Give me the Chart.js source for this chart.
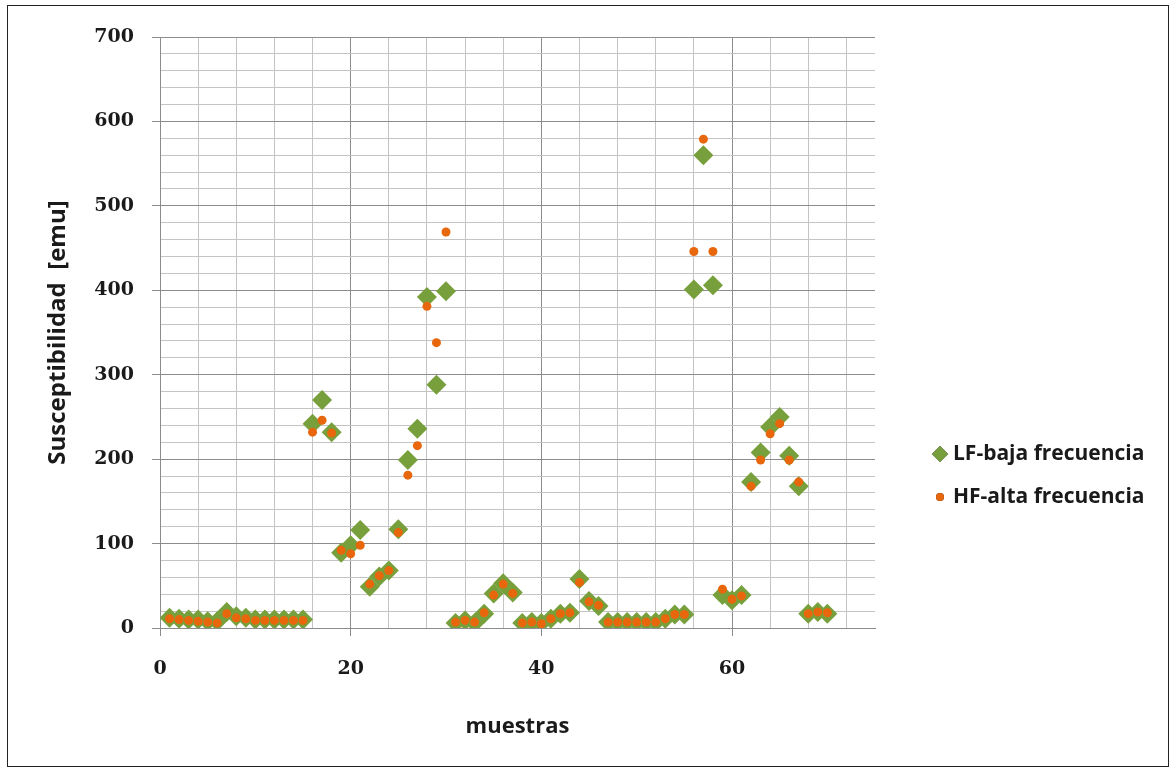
<!DOCTYPE html>
<html>
<head>
<meta charset="utf-8">
<script src="https://cdn.jsdelivr.net/npm/chart.js@4.4.1/dist/chart.umd.min.js"></script>
<style>
  html, body { margin: 0; padding: 0; background: #fff; }
  #wrap { position: relative; width: 1175px; height: 769px; }
  #frame { position: absolute; left: 7px; top: 5px; width: 1162px; height: 762px; border: 1px solid #222; box-sizing: border-box; pointer-events: none; }
</style>
</head>
<body>
<div id="wrap">
  <canvas id="grafico"></canvas>
  <div id="frame"></div>
</div>
<script>
// --- datos ---
const muestras = [1, 2, 3, 4, 5, 6, 7, 8, 9, 10, 11, 12, 13, 14, 15, 16, 17, 18, 19, 20,
  21, 22, 23, 24, 25, 26, 27, 28, 29, 30, 31, 32, 33, 34, 35, 36, 37, 38, 39, 40,
  41, 42, 43, 44, 45, 46, 47, 48, 49, 50, 51, 52, 53, 54, 55, 56, 57, 58, 59, 60,
  61, 62, 63, 64, 65, 66, 67, 68, 69, 70];

// LF - baja frecuencia
const lf = [12, 11, 10, 10, 8, 8, 19, 14, 12, 10, 10, 10, 10, 10, 10, 242, 270, 232, 89, 98,
  116, 49, 61, 68, 117, 199, 236, 392, 288, 399, 6, 9, 6, 17, 41, 53, 42, 6, 7, 6,
  11, 17, 18, 58, 32, 26, 7, 7, 7, 7, 7, 7, 11, 16, 16, 401, 560, 406, 39, 33,
  39, 173, 208, 238, 250, 204, 168, 17, 19, 17];

// HF - alta frecuencia
const hf = [11, 10, 9, 8, 7, 6, 17, 12, 11, 9, 9, 9, 9, 9, 9, 232, 246, 231, 92, 88,
  98, 52, 62, 68, 113, 181, 216, 381, 338, 469, 7, 9, 7, 18, 39, 52, 41, 6, 7, 5,
  11, 17, 18, 54, 31, 27, 7, 7, 7, 7, 7, 7, 11, 16, 16, 446, 579, 446, 46, 34,
  38, 168, 199, 230, 242, 199, 173, 17, 19, 18];

const etiquetaLF = 'LF-baja frecuencia';
const etiquetaHF = 'HF-alta frecuencia';
const tituloX = 'muestras';
const tituloY = 'Susceptibilidad  [emu]';

const verde = '#77a03c';
const naranja = '#e8670c';

function puntos(serie) {
  return muestras.map((m, i) => ({ x: m, y: serie[i] }));
}

// leyenda dibujada a mano a la derecha (como en Excel)
const leyendaPlugin = {
  id: 'leyenda',
  afterDraw(chart) {
    const c = chart.ctx;
    const items = [
      { texto: etiquetaLF, estilo: 'rectRot', color: verde, r: 8, y: 454 },
      { texto: etiquetaHF, estilo: 'circle', color: naranja, r: 4, y: 497 }
    ];
    c.save();
    c.font = 'bold 21px "Open Sans"';
    c.textBaseline = 'middle';
    items.forEach(it => {
      Chart.helpers.drawPoint(c, { pointStyle: it.estilo, radius: it.r, borderWidth: 0 }, 940, it.y);
      c.fillStyle = it.color;
      c.fill();
      c.fillStyle = '#1a1a1a';
      c.fillText(it.texto, 953, it.y);
    });
    c.restore();
  }
};

const ctx = document.getElementById('grafico').getContext('2d');
const grafico = new Chart(ctx, {
  type: 'scatter',
  data: {
    datasets: [
      {
        label: etiquetaLF,
        data: puntos(lf),
        order: 1, // debajo de los puntos naranjas
        pointStyle: 'rectRot',
        pointRadius: 10,
        pointBackgroundColor: verde,
        pointBorderColor: verde,
        pointBorderWidth: 0
      },
      {
        label: etiquetaHF,
        data: puntos(hf),
        order: 0,
        pointStyle: 'circle',
        pointRadius: 4.5,
        pointBackgroundColor: naranja,
        pointBorderColor: naranja,
        pointBorderWidth: 0
      }
    ]
  },
  options: {
    responsive: true,
    maintainAspectRatio: false,
    animation: false,
    layout: { padding: { left: 0, top: 37, right: 300, bottom: 0 } },
    plugins: {
      legend: { display: false },
      tooltip: { enabled: false }
    },
    scales: {
      x: {
        type: 'linear',
        min: 0,
        max: 75,
        afterFit: s => { s.height = 141; },
        ticks: {
          stepSize: 4,
          includeBounds: false,
          autoSkip: false,
          maxRotation: 0,
          padding: 22,
          color: '#1a1a1a',
          font: { family: '"DejaVu Serif"', weight: 'bold', size: 19 },
          callback: v => (v % 20 === 0 ? String(v) : '')
        },
        grid: {
          color: c => (c.tick && c.tick.value % 20 === 0 ? '#8c8c8c' : '#c4c4c4'),
          tickColor: c => (c.tick && c.tick.value % 20 === 0 ? '#8c8c8c' : 'rgba(0,0,0,0)'),
          tickLength: 8,
          lineWidth: 1
        },
        border: { color: '#8c8c8c', width: 1 },
        title: {
          display: true,
          text: tituloX,
          color: '#1a1a1a',
          font: { family: '"Open Sans"', weight: 'bold', size: 22 },
          padding: { top: 0, bottom: 29 }
        }
      },
      y: {
        min: 0,
        max: 700,
        afterFit: s => { s.width = 160; },
        ticks: {
          stepSize: 20,
          autoSkip: false,
          padding: 18,
          color: '#1a1a1a',
          font: { family: '"DejaVu Serif"', weight: 'bold', size: 19 },
          callback: v => (v % 100 === 0 ? String(v) : '')
        },
        grid: {
          color: c => (c.tick && c.tick.value % 100 === 0 ? '#8c8c8c' : '#c4c4c4'),
          tickColor: c => (c.tick && c.tick.value % 100 === 0 ? '#8c8c8c' : 'rgba(0,0,0,0)'),
          tickLength: 8,
          lineWidth: 1
        },
        border: { color: '#8c8c8c', width: 1 },
        title: {
          display: true,
          text: tituloY,
          color: '#1a1a1a',
          font: { family: '"Open Sans"', weight: 'bold', size: 24 },
          padding: { top: 44, bottom: 0 }
        }
      }
    }
  },
  plugins: [leyendaPlugin]
});
</script>
</body>
</html>
